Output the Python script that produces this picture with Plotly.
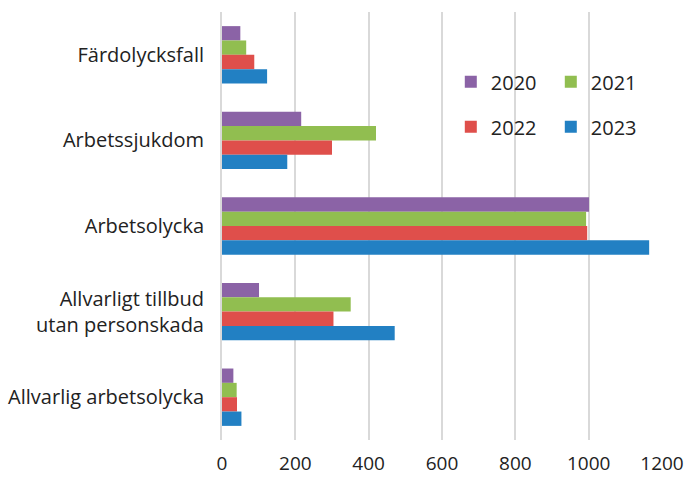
import plotly.graph_objects as go

categories = [
    "Färdolycksfall",
    "Arbetssjukdom",
    "Arbetsolycka",
    "Allvarligt tillbud<br>utan personskada",
    "Allvarlig arbetsolycka",
]
years = ["2020", "2021", "2022", "2023"]
values_2020 = [50, 216, 1001, 101, 31]
values_2021 = [66, 420, 993, 351, 40]
values_2022 = [88, 300, 996, 304, 41]
values_2023 = [123, 178, 1165, 471, 53]
x_ticks = [0, 200, 400, 600, 800, 1000, 1200]

series = [values_2020, values_2021, values_2022, values_2023]
colors = ["#8B63A6", "#91BE50", "#DF4F4B", "#2280C3"]
legend_ids = ["legend", "legend", "legend2", "legend2"]

font_family = "Open Sans, Noto Sans, sans-serif"

fig = go.Figure()
for year, vals, color, lg in zip(years, series, colors, legend_ids):
    fig.add_trace(go.Bar(
        y=categories,
        x=vals,
        name=year,
        orientation="h",
        marker=dict(color=color, line=dict(width=0)),
        legend=lg,
    ))

legend_style = dict(
    orientation="h",
    xanchor="left",
    yanchor="middle",
    font=dict(family=font_family, size=20, color="#222222"),
    bgcolor="rgba(0,0,0,0)",
    entrywidth=55,
    itemwidth=30,
    tracegroupgap=0,
)

fig.update_layout(
    width=693,
    height=479,
    margin=dict(l=222, r=31, t=12, b=39, autoexpand=False),
    paper_bgcolor="white",
    plot_bgcolor="white",
    barmode="group",
    bargap=0.33,
    bargroupgap=0,
    font=dict(family=font_family, size=18, color="#222222"),
    legend=dict(x=0.52, y=0.837, **legend_style),
    legend2=dict(x=0.52, y=0.732, **legend_style),
    xaxis=dict(
        range=[0, 1200],
        tickvals=x_ticks,
        ticktext=[str(t) for t in x_ticks],
        showgrid=True,
        gridcolor="#D9D9D9",
        gridwidth=2,
        zeroline=False,
        showline=False,
        ticks="",
        ticklabelstandoff=10,
        automargin=False,
        tickfont=dict(family=font_family, size=19, color="#222222"),
    ),
    yaxis=dict(
        autorange="reversed",
        showgrid=False,
        showline=True,
        linecolor="#D9D9D9",
        linewidth=2,
        ticks="",
        ticklabelstandoff=12,
        automargin=False,
        tickfont=dict(family=font_family, size=20, color="#222222"),
    ),
)

fig.write_html("out.html")
